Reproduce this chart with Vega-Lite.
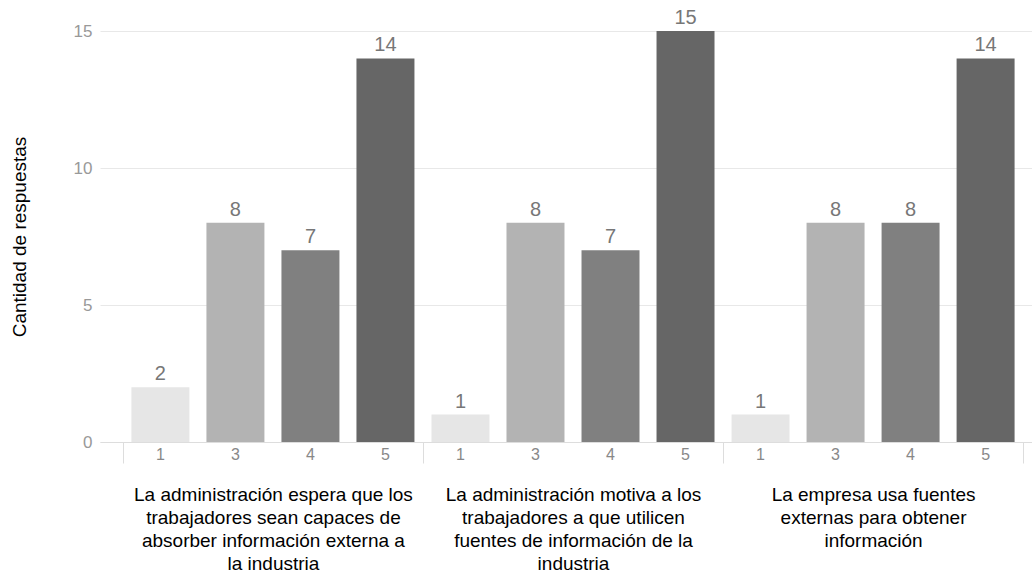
{
  "$schema": "https://vega.github.io/schema/vega-lite/v6.json",
  "width": 932,
  "height": 411,
  "autosize": "none",
  "padding": {"left": 100, "top": 31, "right": 0, "bottom": 133},
  "background": "white",
  "config": {
    "font": "Liberation Sans",
    "view": {"stroke": null}
  },
  "data": {
    "values": [
      {"pregunta": "La administración espera que los|trabajadores sean capaces de|absorber información externa a|la industria", "valor": "1", "cantidad": 2},
      {"pregunta": "La administración espera que los|trabajadores sean capaces de|absorber información externa a|la industria", "valor": "3", "cantidad": 8},
      {"pregunta": "La administración espera que los|trabajadores sean capaces de|absorber información externa a|la industria", "valor": "4", "cantidad": 7},
      {"pregunta": "La administración espera que los|trabajadores sean capaces de|absorber información externa a|la industria", "valor": "5", "cantidad": 14},
      {"pregunta": "La administración motiva a los|trabajadores a que utilicen|fuentes de información de la|industria", "valor": "1", "cantidad": 1},
      {"pregunta": "La administración motiva a los|trabajadores a que utilicen|fuentes de información de la|industria", "valor": "3", "cantidad": 8},
      {"pregunta": "La administración motiva a los|trabajadores a que utilicen|fuentes de información de la|industria", "valor": "4", "cantidad": 7},
      {"pregunta": "La administración motiva a los|trabajadores a que utilicen|fuentes de información de la|industria", "valor": "5", "cantidad": 15},
      {"pregunta": "La empresa usa fuentes|externas para obtener|información", "valor": "1", "cantidad": 1},
      {"pregunta": "La empresa usa fuentes|externas para obtener|información", "valor": "3", "cantidad": 8},
      {"pregunta": "La empresa usa fuentes|externas para obtener|información", "valor": "4", "cantidad": 8},
      {"pregunta": "La empresa usa fuentes|externas para obtener|información", "valor": "5", "cantidad": 14}
    ]
  },
  "encoding": {
    "x": {
      "field": "pregunta",
      "type": "nominal",
      "sort": null,
      "scale": {"paddingInner": 0, "paddingOuter": 0.053, "align": 0.72},
      "axis": {
        "title": null,
        "labelAngle": 0,
        "labelExpr": "split(datum.label, '|')",
        "labelFontSize": 19,
        "labelColor": "#000000",
        "labelLineHeight": 23,
        "labelPadding": 22,
        "labelDx": -6,
        "labelBaseline": "top",
        "labelLimit": 400,
        "tickBand": "extent",
        "tickSize": 21,
        "tickColor": "#dddddd",
        "domainColor": "#dddddd",
        "grid": false
      }
    },
    "xOffset": {
      "field": "valor",
      "type": "nominal",
      "scale": {"paddingInner": 0.227, "paddingOuter": 0.1135}
    }
  },
  "layer": [
    {
      "mark": {"type": "bar"},
      "encoding": {
        "y": {
          "field": "cantidad",
          "type": "quantitative",
          "scale": {"domain": [0, 15], "nice": false},
          "axis": {
            "title": "Cantidad de respuestas",
            "titleFontSize": 19,
            "titleFontWeight": "normal",
            "titleColor": "#000000",
            "titlePadding": 44,
            "values": [0, 5, 10, 15],
            "domain": false,
            "ticks": false,
            "labelPadding": 8,
            "labelFontSize": 17,
            "labelColor": "#999999",
            "gridColor": "#e8e8e8"
          }
        },
        "color": {
          "field": "valor",
          "type": "nominal",
          "scale": {"domain": ["1", "3", "4", "5"], "range": ["#e6e6e6", "#b3b3b3", "#808080", "#666666"]},
          "legend": null
        }
      }
    },
    {
      "mark": {"type": "text", "baseline": "bottom", "dy": -3, "fontSize": 20, "color": "#777777"},
      "encoding": {
        "y": {"field": "cantidad", "type": "quantitative"},
        "text": {"field": "cantidad", "type": "quantitative"}
      }
    },
    {
      "mark": {"type": "text", "baseline": "top", "dy": 5, "fontSize": 16, "color": "#888888"},
      "encoding": {
        "y": {"datum": 0},
        "text": {"field": "valor", "type": "nominal"}
      }
    }
  ]
}
